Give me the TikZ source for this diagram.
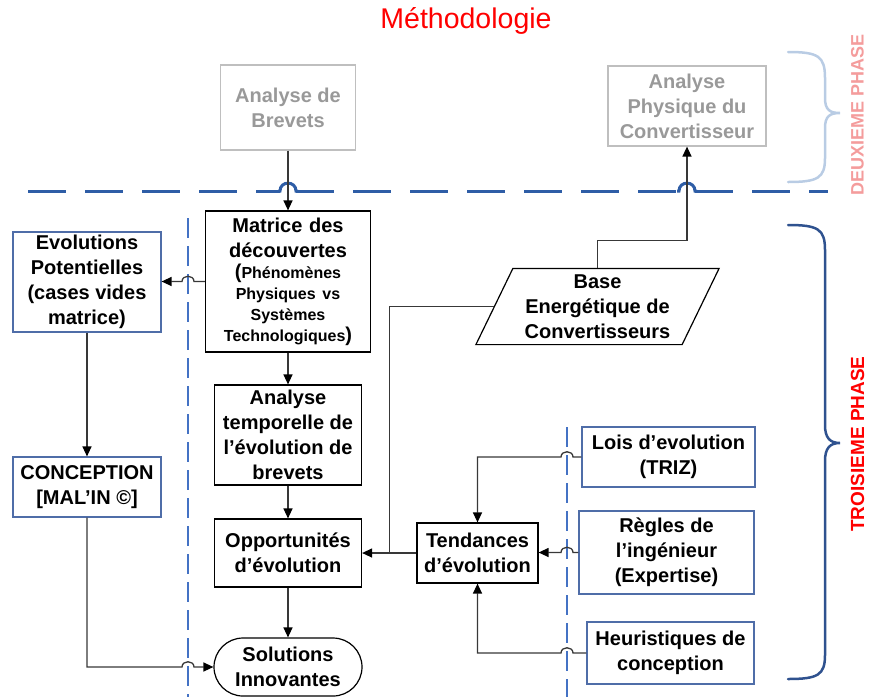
\documentclass[tikz,border=0pt]{standalone}
\usepackage{fontspec}
\setmainfont{Liberation Sans}
\usetikzlibrary{arrows.meta,calc}

\definecolor{bordbleu}{HTML}{4F6DA8}
\definecolor{bordgris}{HTML}{BFBFBF}
\definecolor{textegris}{HTML}{999999}
\definecolor{traitgris}{HTML}{383838}
\definecolor{bleusep}{HTML}{4472C4}
\definecolor{bleuligne}{HTML}{2E5DA6}
\definecolor{bleupale}{HTML}{B9CCE4}
\definecolor{bleufonce}{HTML}{2F528F}
\definecolor{roseph}{HTML}{F49C9C}

\tikzset{
    boite/.style={draw=black, line width=1.2pt, align=center, inner sep=0pt,
        font=\bfseries\fontsize{20}{25}\selectfont},
    boitebleue/.style={boite, draw=bordbleu},
    boitegrise/.style={boite, draw=bordgris, text=textegris},
    trait/.style={draw=traitgris, line width=1.3pt},
    fleche/.style={trait, -{Triangle[length=10pt,width=9pt,color=black]}},
    separ/.style={draw=bleusep, line width=1.3pt, dash pattern=on 20pt off 8pt},
    limite/.style={draw=bleuligne, line width=3pt, dash pattern=on 38pt off 19pt},
    accolade/.style={line width=2.5pt, line cap=round}
}

\begin{document}
\begin{tikzpicture}[x=1pt,y=-1pt]
    \useasboundingbox (0,0) rectangle (869,697);
    \path node[text=red, font=\fontsize{28.5}{30}\selectfont] (titre) at (466,21) {Méthodologie}
        node[boitegrise, minimum width=135pt, minimum height=85pt] (brevets) at (288,107.5) {Analyse de\\Brevets}
        node[boitegrise, minimum width=158pt, minimum height=80pt] (physique) at (687,106) {Analyse\\Physique du\\Convertisseur}
        node[boite, text width=165pt, minimum height=141pt] (matrice) at (288,281.5)
            {Matrice des\\découvertes\par
            {\fontsize{16}{21}\selectfont{\fontsize{20}{21}\selectfont(}Phénomènes\\Physiques vs\\Systèmes\\Technologiques{\fontsize{20}{21}\selectfont)}\par}}
        node[boite, minimum width=147pt, minimum height=100pt] (temporelle) at (288,435) {Analyse\\temporelle de\\l’évolution de\\brevets}
        node[boite, minimum width=147pt, minimum height=68pt] (opport) at (288,553) {Opportunités\\d’évolution}
        node[boite, rounded corners=29pt, minimum width=148pt, minimum height=58pt] (solutions) at (288,667) {Solutions\\Innovantes}
        node[boitebleue, minimum width=148pt, minimum height=100pt] (evol) at (87,282) {Evolutions\\Potentielles\\(cases vides\\matrice)}
        node[boitebleue, minimum width=148pt, minimum height=60pt] (concept) at (87,487) {CONCEPTION\\{}[MAL’IN ©]}
        node[boite, draw=none, minimum width=205pt, minimum height=75pt] (base) at (597.5,306.5) {Base\\Energétique de\\Convertisseurs}
        node[boite, minimum width=121pt, minimum height=60pt] (tend) at (477.5,553) {Tendances\\d’évolution}
        node[boitebleue, minimum width=173pt, minimum height=60pt] (lois) at (668.5,457) {Lois d’evolution\\(TRIZ)}
        node[boitebleue, minimum width=175pt, minimum height=83pt] (regles) at (666.5,552.5) {Règles de\\l’ingénieur\\(Expertise)}
        node[boitebleue, minimum width=167pt, minimum height=62pt] (heur) at (670.5,653) {Heuristiques de\\conception}
        node[rotate=90, text=roseph, font=\bfseries\fontsize{18}{20}\selectfont] (phase2) at (857.5,114.5) {DEUXIEME PHASE}
        node[rotate=90, text=red, font=\bfseries\fontsize{19}{21}\selectfont] (phase3) at (857.5,444) {TROISIEME PHASE};
    \draw[line width=1.2pt] ($(base.south west)+(-18.5,0)$) -- ($(base.north west)+(18.5,0)$)
        -- ($(base.north east)+(18.5,0)$) -- ($(base.south east)+(-18.5,0)$) -- cycle;
    \coordinate (sepL) at (188,218);
    \coordinate (sepR) at (567,427);
    \draw[separ] (sepL) -- (sepL |- 0,697);
    \draw[separ] (sepR) -- (sepR |- 0,697);
    \draw[limite] (28,191) -- (280,191);
    \draw[limite] (296,191) -- (679,191);
    \draw[limite] (695,191) -- (828,191);
    \draw[draw=bleuligne, line width=3pt] (278,191) -- (280,191) .. controls +(0,-10.5) and +(0,-10.5) .. (296,191) -- (298,191);
    \draw[draw=bleuligne, line width=3pt] (677,191) -- (679,191) .. controls +(0,-10.5) and +(0,-10.5) .. (695,191) -- (697,191);
    \draw[accolade, bleupale] (788,52) .. controls (818,52) and (825,56) .. (825,78) -- (825,98)
        .. controls (825,110) and (830,113) .. (840,113) .. controls (830,113) and (825,116) .. (825,128)
        -- (825,158) .. controls (825,178) and (818,182) .. (788,182);
    \draw[accolade, bleufonce] (788,225) .. controls (818,225) and (825,229) .. (825,250) -- (825,425)
        .. controls (825,438) and (830,443) .. (840,443) .. controls (830,443) and (825,448) .. (825,461)
        -- (825,655) .. controls (825,675) and (818,679) .. (788,679);
    \draw[fleche] (brevets.south) -- (matrice.north);
    \draw[fleche] (base.north) -- ++(0,-28) -| (physique.south);
    \draw[fleche] (matrice.west) -- ($(matrice.west -| sepL)+(6,0)$) .. controls +(0,-7) and +(0,-7) .. ($(matrice.west -| sepL)+(-6,0)$) -- (matrice.west -| evol.east);
    \draw[fleche] (matrice.south) -- (temporelle.north);
    \draw[fleche] (temporelle.south) -- (opport.north);
    \draw[fleche] (opport.south) -- (solutions.north);
    \draw[fleche] (evol.south) -- (concept.north);
    \draw[fleche] (concept.south) |- ($(solutions.west -| sepL)+(-6,0)$) .. controls +(0,-7) and +(0,-7) .. ($(solutions.west -| sepL)+(6,0)$) -- (solutions.west);
    \draw[fleche] (tend.west) -- (opport.east);
    \draw[trait] (base.west) -| ($(tend.west)!0.5!(opport.east)$);
    \draw[fleche] (lois.west) -- ($(lois.west -| sepR)+(6,0)$) .. controls +(0,-7) and +(0,-7) .. ($(lois.west -| sepR)+(-6,0)$) -| (tend.north);
    \draw[fleche] (regles.west) -- ($(regles.west -| sepR)+(6,0)$) .. controls +(0,-7) and +(0,-7) .. ($(regles.west -| sepR)+(-6,0)$) -- (regles.west -| tend.east);
    \draw[fleche] (heur.west) -- ($(heur.west -| sepR)+(6,0)$) .. controls +(0,-7) and +(0,-7) .. ($(heur.west -| sepR)+(-6,0)$) -| (tend.south);
\end{tikzpicture}
\end{document}
